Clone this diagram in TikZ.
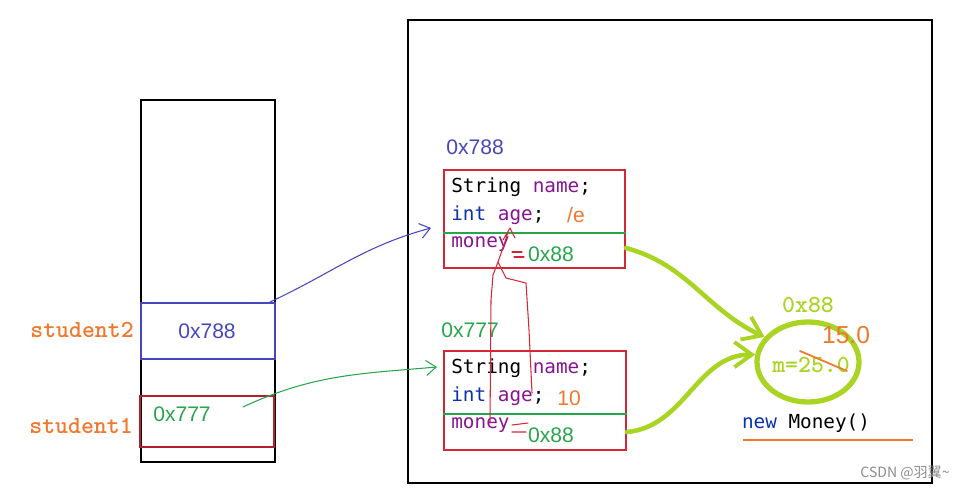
\documentclass[tikz,border=0pt]{standalone}
\usepackage{fontspec}
\setmainfont{Liberation Sans}
\setmonofont{DejaVu Sans Mono}
\newfontfamily\oldmono{lmmonolt10-bold.otf}
\newfontfamily\cjk{Noto Sans CJK SC}
\usetikzlibrary{arrows.meta, shapes.geometric}

\definecolor{addrblue}{RGB}{70,70,190}
\definecolor{addrgreen}{RGB}{40,165,75}
\definecolor{limegreen}{RGB}{170,212,35}
\definecolor{penorange}{RGB}{240,120,45}
\definecolor{boxred}{RGB}{212,38,52}
\definecolor{fieldpurple}{RGB}{135,20,145}
\definecolor{keyblue}{RGB}{10,50,175}

\begin{document}
\begin{tikzpicture}[
  x=0.2mm, y=-0.2mm,
  cell/.style={rectangle, draw, line width=1.2pt, inner sep=0pt},
  code/.style={font=\ttfamily\fontsize{11}{13}\selectfont, inner sep=0pt, anchor=west},
  addr/.style={font=\fontsize{12}{14}\selectfont, inner sep=0pt},
  varname/.style={font=\oldmono\fontsize{14}{16}\selectfont, text=penorange, inner sep=0pt},
  pen/.style={line width=0.6pt, line cap=round, line join=round},
  lime/.style={draw=limegreen, line width=2.6pt, line cap=round, -{Straight Barb[length=3.5mm, width=5mm, line width=2.2pt]}}
]
  \useasboundingbox (0,0) rectangle (979,489);

  % stack
  \node[cell, minimum width=2.68cm, minimum height=7.24cm] (stack) at (208,281) {};
  \node[cell, draw=addrblue, line width=1pt, minimum width=2.68cm, minimum height=1.12cm] (s2box) at (208,331) {};
  \node[cell, draw=boxred!85!black, line width=1pt, minimum width=2.68cm, minimum height=1.02cm] (s1box) at (207,421.5) {};
  \node[addr, text=addrblue] (s2val) at (207,331) {0x788};
  \node[addr, text=addrgreen] (s1val) at (182,414) {0x777};
  \node[varname] (s2name) at (82,330) {student2};
  \node[varname] (s1name) at (81,426) {student1};

  % heap
  \node[cell, minimum width=10.48cm, minimum height=9.26cm] (heap) at (670,251.5) {};

  % first object
  \node[addr, text=addrblue] (o1addr) at (475,147) {0x788};
  \node[cell, draw=boxred, line width=1pt, minimum width=3.62cm, minimum height=1.96cm] (obj1) at (534.5,219) {};
  \draw[addrgreen, line width=1pt] (obj1.west |- 0,233) -- (obj1.east |- 0,233);
  \node[code] (o1name) at (451,187) {String \textcolor{fieldpurple}{name};};
  \node[code] (o1age) at (451,215) {\textcolor{keyblue}{int} \textcolor{fieldpurple}{age};};
  \node[code, text=fieldpurple] (o1money) at (451,244) {money};
  \node[addr, text=addrgreen] (o1ref) at (551,254) {0x88};
  \node[font=\fontsize{12}{14}\selectfont, text=penorange, inner sep=0pt] (o1val) at (576,215) {/e};

  % second object
  \node[addr, text=addrgreen] (o2addr) at (470,330) {0x777};
  \node[cell, draw=boxred, line width=1pt, minimum width=3.64cm, minimum height=1.98cm] (obj2) at (535,400.5) {};
  \draw[addrgreen, line width=1pt] (obj2.west |- 0,414) -- (obj2.east |- 0,414);
  \node[code] (o2name) at (451,368) {String \textcolor{fieldpurple}{name};};
  \node[code] (o2age) at (451,396) {\textcolor{keyblue}{int} \textcolor{fieldpurple}{age};};
  \node[code, text=fieldpurple] (o2money) at (451,425) {money};
  \node[addr, text=addrgreen] (o2ref) at (551,435) {0x88};
  \node[font=\fontsize{12}{14}\selectfont, text=penorange, inner sep=0pt] (o2val) at (569,398) {10};

  % money object
  \node[ellipse, draw=limegreen, line width=3pt, minimum width=2.04cm, minimum height=1.6cm] (money) at (808,362) {};
  \node[font=\oldmono\fontsize{14}{16}\selectfont, text=limegreen, inner sep=0pt] (maddr) at (808,305) {0x88};
  \node[font=\oldmono\fontsize{14}{16}\selectfont, text=limegreen, inner sep=0pt] (mval) at (811,365) {m=25.0};
  \node[font=\fontsize{14}{16}\selectfont, text=penorange, inner sep=0pt] (mnew) at (846,335) {15.0};
  \draw[pen, penorange, line width=1pt] (800,351) -- (847,371);
  \node[code, anchor=center] (mnewcall) at (806,423) {\textcolor{keyblue}{new} Money()};
  \draw[penorange, line width=0.8pt] (743,440) -- (913,440);

  % references
  \coordinate (b0) at (270,302);
  \coordinate (b1) at (431,228);
  \coordinate (g0) at (243,407);
  \coordinate (g1) at (437,367);
  \draw[pen, addrblue, -{Straight Barb[length=2mm, width=3mm]}] (b0) to[out=25, in=195] (b1);
  \draw[pen, addrgreen, -{Straight Barb[length=2mm, width=3mm]}] (g0) to[out=25, in=185] (g1);
  \draw[lime] (obj1.east |- 0,248) to[out=-15, in=155] (money.150);
  \draw[lime] (obj2.east |- 0,432) to[out=5, in=180] (money.172);

  % red scribbles
  \draw[pen, boxred] (490,423) -- (491,300) -- (493,275) -- (498,262) -- (506,278) -- (526,283) -- (529,330) -- (532,393);
  \draw[pen, boxred] (498,262) -- (504,245) -- (508,232) (503,240) -- (510,228) -- (515,238);
  \draw[pen, boxred] (512,252) -- (522,252) (514,257) -- (524,257);
  \draw[pen, boxred] (512,425) -- (528,423) (512,432) -- (526,432);
  \node[font=\cjk\fontsize{8}{9}\selectfont, text=black!45, inner sep=0pt] (mark) at (905,473) {CSDN @羽翼\textasciitilde};
\end{tikzpicture}
\end{document}
